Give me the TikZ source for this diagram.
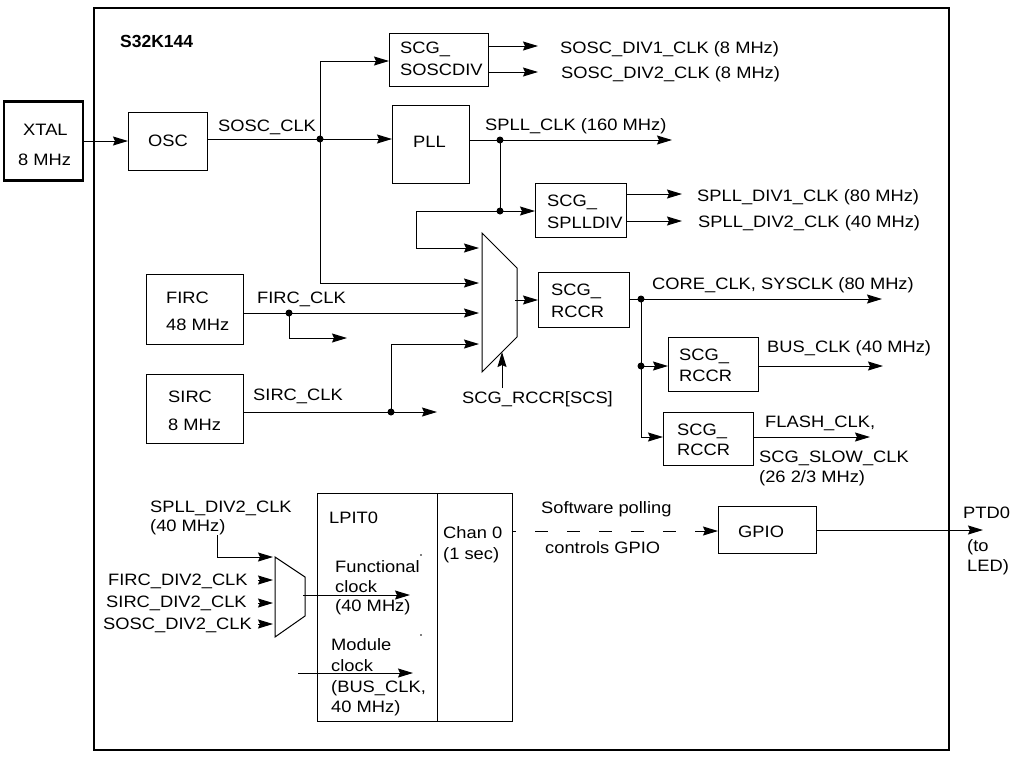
\documentclass[tikz,border=0pt]{standalone}
\usepackage{fontspec}
\setmainfont{Liberation Sans}[FakeStretch=1.11]
\newfontfamily\titlefont{Liberation Sans}
\usetikzlibrary{arrows.meta}

\begin{document}
\begin{tikzpicture}[x=1pt,y=-1pt,
  font=\fontsize{16.5}{20.5}\selectfont,
  wire/.style={line width=1pt},
  arr/.style={wire,-{Stealth[length=15pt,width=9pt,inset=2pt]}},
  blk/.style={draw,rectangle,line width=1pt,inner sep=0pt,outer sep=0pt},
  heavy/.style={blk,line width=2.2pt},
  txt/.style={inner sep=0pt,anchor=base west},
  jdot/.style={circle,fill,inner sep=0pt,minimum size=7pt},
  speck/.style={circle,fill,inner sep=0pt,minimum size=1.6pt},
]
\useasboundingbox (0,0) rectangle (1016,756);

% chip outline and title
\node[heavy,minimum width=855pt,minimum height=742pt] (chip) at (521.5,379) {};
\node[txt] (title) at (120,47) {\titlefont\fontsize{17.5}{20}\selectfont\bfseries S32K144};

% external crystal
\node[heavy,minimum width=79pt,minimum height=79pt] (xtal) at (43.5,141) {};
\node[txt] (xtalA) at (23,135) {XTAL};
\node[txt] (xtalB) at (18,165) {8 MHz};

% clock sources and dividers
\node[blk,minimum width=79pt,minimum height=58pt] (osc) at (167.5,141) {};
\node[txt] (oscT) at (148,146.5) {OSC};
\node[blk,minimum width=99pt,minimum height=53pt] (soscdiv) at (438.5,59.5) {};
\node[txt] (soscdivA) at (400,53) {SCG\_};
\node[txt] (soscdivB) at (400,75) {SOSCDIV};
\node[blk,minimum width=77pt,minimum height=78pt] (pll) at (430.5,144) {};
\node[txt] (pllT) at (413,147) {PLL};
\node[blk,minimum width=91pt,minimum height=54pt] (splldiv) at (580.5,210) {};
\node[txt] (splldivA) at (547,206) {SCG\_};
\node[txt] (splldivB) at (547,228) {SPLLDIV};
\node[blk,minimum width=97pt,minimum height=70pt] (firc) at (194.5,309) {};
\node[txt] (fircA) at (166,303) {FIRC};
\node[txt] (fircB) at (166,330) {48 MHz};
\node[blk,minimum width=97pt,minimum height=69pt] (sirc) at (194.5,408.5) {};
\node[txt] (sircA) at (168,402) {SIRC};
\node[txt] (sircB) at (168,430) {8 MHz};

% system clock selection and RCCR dividers
\node[blk,minimum width=91pt,minimum height=55pt] (rccr) at (583.5,299.5) {};
\node[txt] (rccrA) at (551,295) {SCG\_};
\node[txt] (rccrB) at (551,317) {RCCR};
\node[blk,minimum width=90pt,minimum height=54pt] (rccrbus) at (713,364) {};
\node[txt] (rccrbusA) at (679,360) {SCG\_};
\node[txt] (rccrbusB) at (679,381) {RCCR};
\node[blk,minimum width=90pt,minimum height=53pt] (rccrslow) at (708,438.5) {};
\node[txt] (rccrslowA) at (677,435) {SCG\_};
\node[txt] (rccrslowB) at (677,455) {RCCR};

% SCG clock multiplexer
\draw[wire] (482,233) -- (517,268) -- (517,337) -- (482,372) -- cycle;

% LPIT0 with channel 0, and GPIO
\node[blk,minimum width=120pt,minimum height=228pt] (lpit) at (377,607) {};
\node[blk,minimum width=75pt,minimum height=228pt] (chan) at (474.5,607) {};
\node[txt] (lpitT) at (329,523) {LPIT0};
\node[txt] (chanA) at (443,538) {Chan 0};
\node[txt] (chanB) at (443,559) {(1 sec)};
\node[txt] (funcA) at (335,572) {Functional};
\node[txt] (funcB) at (335,592) {clock};
\node[txt] (funcC) at (335,611) {(40 MHz)};
\node[txt] (modA) at (331,650) {Module};
\node[txt] (modB) at (331,671) {clock};
\node[txt] (modC) at (331,692) {(BUS\_CLK,};
\node[txt] (modD) at (331,712) {40 MHz)};
\node[speck] (speckA) at (421,555) {};
\node[speck] (speckB) at (421,635) {};
\node[blk,minimum width=98pt,minimum height=47pt] (gpio) at (767,529.5) {};
\node[txt] (gpioT) at (738,537) {GPIO};

% LPIT functional clock multiplexer
\draw[wire] (275,557) -- (305,577) -- (305,616) -- (275,637) -- cycle;

% wiring points
\coordinate (jSosc) at (320,139);
\coordinate (tSosc) at (320,61);
\coordinate (bSosc) at (320,283);
\coordinate (jPll) at (500,140);
\coordinate (jDiv) at (500,211);
\coordinate (kDiv) at (416,211);
\coordinate (jFirc) at (289,313);
\coordinate (jSirc) at (391,412);
\coordinate (jCore) at (641,299);
\coordinate (jBus) at (641,366);
\coordinate (bCore) at (641,437);

% system oscillator path
\draw[arr] (xtal.east) -- (osc.west);
\draw[wire] (osc.east |- jSosc) -- (jSosc);
\draw[arr] (jSosc) -- (pll.west |- jSosc);
\draw[wire] (tSosc) -- (bSosc);
\draw[arr] (tSosc) -- (soscdiv.west |- tSosc);
\draw[arr] (bSosc) -- (479,283);
\node[jdot] (dSosc) at (jSosc) {};
\node[txt] (lSosc) at (218,131) {SOSC\_CLK};

\draw[arr] (soscdiv.east |- 0,46) -- (538,46);
\draw[arr] (soscdiv.east |- 0,72) -- (538,72);
\node[txt] (lSd1) at (560,53) {SOSC\_DIV1\_CLK (8 MHz)};
\node[txt] (lSd2) at (561,78) {SOSC\_DIV2\_CLK (8 MHz)};

% PLL path
\draw[arr] (pll.east |- jPll) -- (672,140);
\draw[wire] (jPll) -- (jDiv);
\draw[arr] (kDiv) -- (splldiv.west |- kDiv);
\draw[arr] (kDiv) -- (416,248) -- (479,248);
\node[jdot] (dPll) at (jPll) {};
\node[jdot] (dDiv) at (jDiv) {};
\node[txt] (lPll) at (485,130) {SPLL\_CLK (160 MHz)};

\draw[arr] (splldiv.east |- 0,194) -- (682,194);
\draw[arr] (splldiv.east |- 0,221) -- (682,221);
\node[txt] (lPd1) at (697,201) {SPLL\_DIV1\_CLK (80 MHz)};
\node[txt] (lPd2) at (698,227) {SPLL\_DIV2\_CLK (40 MHz)};

% FIRC path
\draw[arr] (firc.east |- jFirc) -- (479,313);
\draw[arr] (jFirc) -- (289,338) -- (347,338);
\node[jdot] (dFirc) at (jFirc) {};
\node[txt] (lFirc) at (257,303) {FIRC\_CLK};

% SIRC path
\draw[arr] (sirc.east |- jSirc) -- (437,412);
\draw[arr] (jSirc) -- (391,344) -- (479,344);
\node[jdot] (dSirc) at (jSirc) {};
\node[txt] (lSirc) at (253,400) {SIRC\_CLK};

% mux select and output
\draw[arr] (502,388) -- (502,352);
\node[txt] (lScs) at (462,403) {SCG\_RCCR[SCS]};
\draw[arr] (515,300) -- (rccr.west |- 0,300);

% core, bus and slow clocks
\draw[arr] (rccr.east |- jCore) -- (882,299);
\draw[wire] (jCore) -- (bCore);
\draw[arr] (jBus) -- (rccrbus.west |- jBus);
\draw[arr] (bCore) -- (rccrslow.west |- bCore);
\node[jdot] (dCore) at (jCore) {};
\node[jdot] (dBus) at (jBus) {};
\node[txt] (lCore) at (652,289) {CORE\_CLK, SYSCLK (80 MHz)};

\draw[arr] (rccrbus.east |- jBus) -- (883,366);
\node[txt] (lBus) at (767,352) {BUS\_CLK (40 MHz)};
\draw[arr] (rccrslow.east |- bCore) -- (870,437);
\node[txt] (lSlowA) at (765,427) {FLASH\_CLK,};
\node[txt] (lSlowB) at (759,462) {SCG\_SLOW\_CLK};
\node[txt] (lSlowC) at (759,482) {(26 2/3 MHz)};

% LPIT clock inputs
\draw[arr] (217,535) -- (217,557) -- (273,557);
\node[txt] (lIn1a) at (150,512) {SPLL\_DIV2\_CLK};
\node[txt] (lIn1b) at (150,531) {(40 MHz)};
\draw[arr] (258,580) -- (273,580);
\draw[arr] (258,603) -- (273,603);
\draw[arr] (258,624) -- (273,624);
\node[txt] (lIn2) at (108,585) {FIRC\_DIV2\_CLK};
\node[txt] (lIn3) at (106,607) {SIRC\_DIV2\_CLK};
\node[txt] (lIn4) at (103,629) {SOSC\_DIV2\_CLK};
\draw[arr] (303,595) -- (410,595);
\draw[arr] (298,673) -- (413,673);

% software-controlled GPIO output
\draw[arr,dash pattern=on 13pt off 19pt,dash phase=9pt] (chan.east |- 0,531) -- (gpio.west |- 0,531);
\node[txt] (lSwA) at (541,513) {Software polling};
\node[txt] (lSwB) at (545,553) {controls GPIO};
\draw[arr] (gpio.east |- 0,530) -- (983,530);
\node[txt] (lPtd) at (963,518) {PTD0};
\node[txt] (lTo) at (967,551) {(to};
\node[txt] (lLed) at (967,571) {LED)};
\end{tikzpicture}
\end{document}
